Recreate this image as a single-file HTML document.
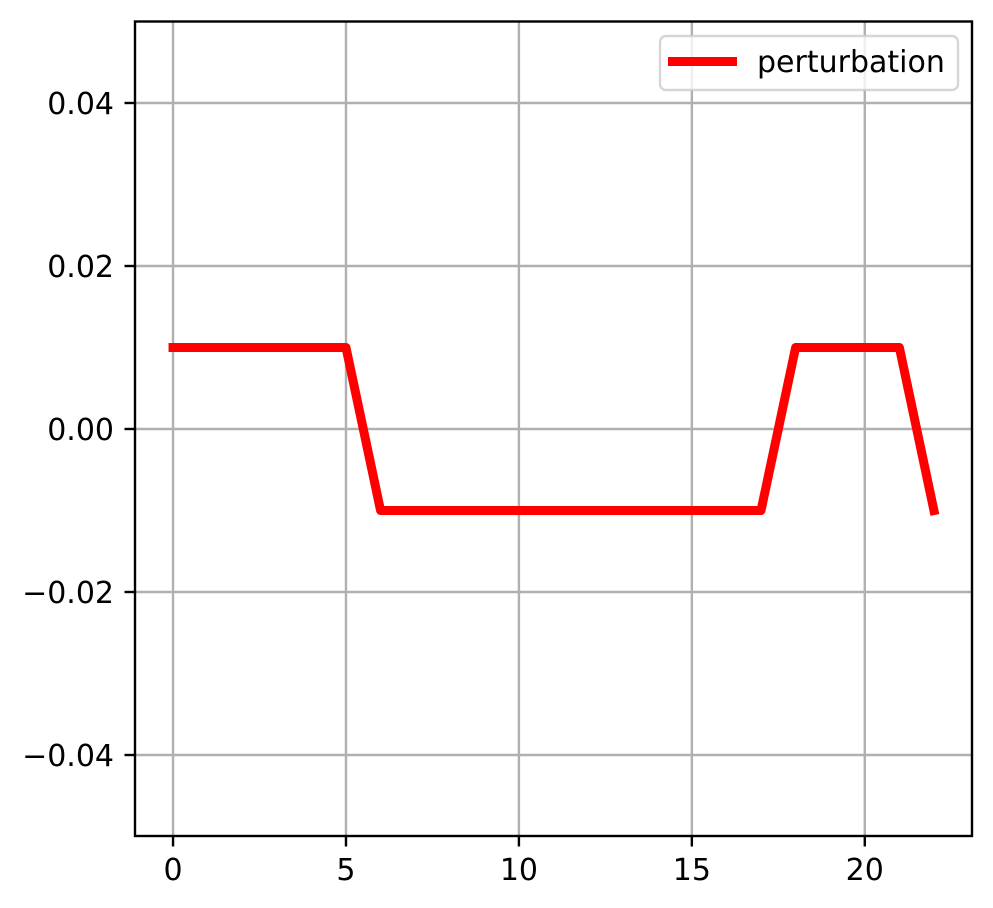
<!DOCTYPE html>
<html lang="en">
<head>
<meta charset="utf-8">
<title>Perturbation chart</title>
<style>
html,body{margin:0;padding:0;background:#fff;}
svg{display:block;font-family:"DejaVu Sans","Liberation Sans",sans-serif;}
</style>
</head>
<body>
<svg id="chart" xmlns="http://www.w3.org/2000/svg" width="993" height="908" viewBox="0 0 993 908">
<g id="grid"></g>
<g id="plot"></g>
<rect x="135" y="21.5" width="837" height="814.5" fill="none" stroke="#000" stroke-width="2.4"/>
<g id="ticks"></g>
<g>
<rect x="660" y="36" width="298" height="54" rx="6" ry="6" fill="#fff" fill-opacity="0.8" stroke="#ccc" stroke-opacity="0.8" stroke-width="2.4"/>
<line x1="668" y1="61.5" x2="737" y2="61.5" stroke="#f00" stroke-width="9"/>
<text x="757" y="72" font-size="30" fill="#000">perturbation</text>
</g>
</svg>
<script>
const xValues = [0, 1, 2, 3, 4, 5, 6, 7, 8, 9, 10, 11, 12, 13, 14, 15, 16, 17, 18, 19, 20, 21, 22];
const perturbation = [0.01, 0.01, 0.01, 0.01, 0.01, 0.01, -0.01, -0.01, -0.01, -0.01, -0.01, -0.01, -0.01, -0.01, -0.01, -0.01, -0.01, -0.01, 0.01, 0.01, 0.01, 0.01, -0.01];
const xTicks = [0, 5, 10, 15, 20];
const yTicks = [-0.04, -0.02, 0, 0.02, 0.04];
const xTickLabels = ['0', '5', '10', '15', '20'];
const yTickLabels = ['\u22120.04', '\u22120.02', '0.00', '0.02', '0.04'];

const NS = 'http://www.w3.org/2000/svg';
const box = { left: 135, right: 972, top: 21.5, bottom: 836.5 };
const xDomain = [-1.1, 23.1];
const yDomain = [-0.05, 0.05];
function xScale(v) {
  return box.left + (v - xDomain[0]) / (xDomain[1] - xDomain[0]) * (box.right - box.left);
}
function yScale(v) {
  return box.bottom - (v - yDomain[0]) / (yDomain[1] - yDomain[0]) * (box.bottom - box.top);
}
function make(tag, attrs, parent) {
  const el = document.createElementNS(NS, tag);
  for (const k in attrs) el.setAttribute(k, attrs[k]);
  parent.appendChild(el);
  return el;
}
const grid = document.getElementById('grid');
const ticks = document.getElementById('ticks');
const plot = document.getElementById('plot');

xTicks.forEach(function (t, i) {
  const x = xScale(t);
  const g = make('line', { x1: x, x2: x, y1: box.top, y2: 836, stroke: '#b0b0b0', 'stroke-width': 2.4 }, grid);
  
  
  const m = make('line', { x1: x, x2: x, y1: 836, y2: 846.5, stroke: '#000', 'stroke-width': 2.4 }, ticks);
  
  
  const l = make('text', { x: x, y: 880, 'text-anchor': 'middle', 'font-size': 30, fill: '#000' }, ticks);
  
  
  l.textContent = xTickLabels[i];
});

yTicks.forEach(function (t, i) {
  const y = yScale(t);
  const g = make('line', { x1: box.left, x2: box.right, y1: y, y2: y, stroke: '#b0b0b0', 'stroke-width': 2.4 }, grid);
  
  
  const m = make('line', { x1: box.left - 10.5, x2: box.left, y1: y, y2: y, stroke: '#000', 'stroke-width': 2.4 }, ticks);
  
  
  const l = make('text', { x: 114, y: y + 11, 'text-anchor': 'end', 'font-size': 30, fill: '#000' }, ticks);
  
  
  l.textContent = yTickLabels[i];
});

const points = xValues.map(function (x, i) {
  return xScale(x).toFixed(2) + ',' + yScale(perturbation[i]).toFixed(2);
}).join(' ');
const line = make('polyline', { points: points, fill: 'none', stroke: '#f00', 'stroke-width': 9, 'stroke-linecap': 'square', 'stroke-linejoin': 'round' }, plot);


</script>
</body>
</html>
